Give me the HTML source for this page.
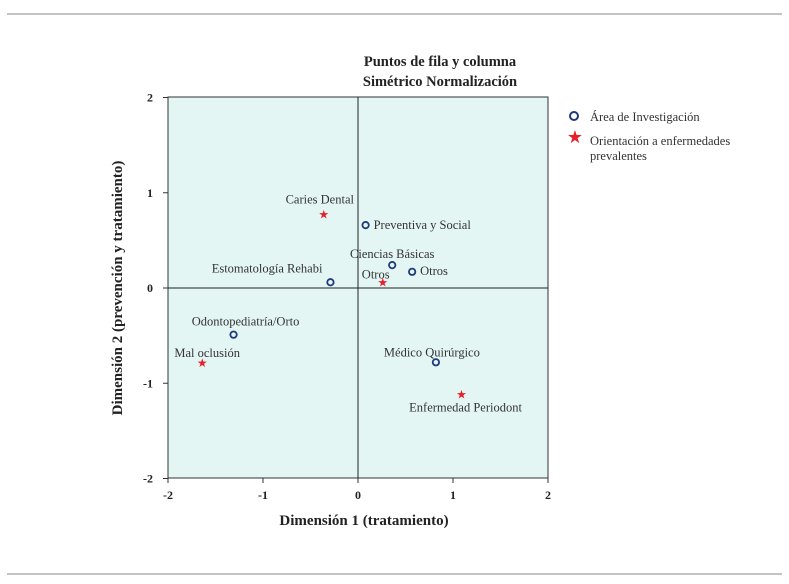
<!DOCTYPE html>
<html><head><meta charset="utf-8"><style>
body{margin:0;background:#fff;}
svg{display:block;font-family:"Liberation Serif",serif;}
</style></head><body>
<svg width="789" height="584" id="chart">
<line x1="7" y1="14" x2="782" y2="14" stroke="#888" stroke-width="1"/>
<line x1="7" y1="574" x2="782" y2="574" stroke="#888" stroke-width="1"/>
<text x="440" y="66" text-anchor="middle" font-size="14.5" font-weight="bold" fill="#222">Puntos de fila y columna</text>
<text x="440" y="86" text-anchor="middle" font-size="14.5" font-weight="bold" fill="#222">Simétrico Normalización</text>
<rect x="168" y="97" width="380" height="381" fill="#e3f6f4" stroke="#333" stroke-width="1"/>
<g id="axes"></g>
<g id="marks"></g>
<text x="364" y="525" text-anchor="middle" font-size="15" font-weight="bold" fill="#222">Dimensión 1 (tratamiento)</text>
<text transform="translate(122,288) rotate(-90)" text-anchor="middle" font-size="15" font-weight="bold" fill="#222">Dimensión 2 (prevención y tratamiento)</text>
<circle cx="574" cy="116" r="4" fill="none" stroke="#1f3a7a" stroke-width="2"/>
<text x="590" y="121" font-size="12.5" fill="#333">Área de Investigación</text>
<text x="575" y="143" text-anchor="middle" font-size="18" fill="#e8202a">★</text>
<text x="590" y="145" font-size="12.5" fill="#333">Orientación a enfermedades</text>
<text x="590" y="160" font-size="12.5" fill="#333">prevalentes</text>
</svg>
<script>
const ticks=[-2,-1,0,1,2];
const circleLabels=["Preventiva y Social","Ciencias Básicas","Otros","Estomatología Rehabi","Odontopediatría/Orto","Médico Quirúrgico"];
const circleX=[0.08,0.36,0.57,-0.29,-1.31,0.82];
const circleY=[0.66,0.24,0.17,0.06,-0.49,-0.78];
const starLabels=["Caries Dental","Otros","Mal oclusión","Enfermedad Periodont"];
const starX=[-0.36,0.26,-1.64,1.09];
const starY=[0.77,0.06,-0.79,-1.12];
const circleOff=[[8,4,"start"],[0,-7,"middle"],[8,3,"start"],[-8,-10,"end"],[12,-9,"middle"],[-4,-6,"middle"]];
const starOff=[[-4,-11,"middle"],[-7,-4,"middle"],[5,-6,"middle"],[4,17,"middle"]];
const NS="http://www.w3.org/2000/svg";
const sx=v=>358+v*95, sy=v=>288-v*95.25;
const axes=document.getElementById('axes'), marks=document.getElementById('marks');
function mk(tag,attrs,parent){const e=document.createElementNS(NS,tag);for(const k in attrs)e.setAttribute(k,attrs[k]);parent.appendChild(e);return e;}
let l=mk('line',{x1:sx(0),x2:sx(0),y1:97,y2:478,stroke:'#222'},axes);


l=mk('line',{x1:168,x2:548,y1:sy(0),y2:sy(0),stroke:'#222'},axes);


ticks.forEach(t=>{
 let a=mk('line',{x1:sx(t),x2:sx(t),y1:478,y2:483,stroke:'#333'},axes);
 
 
 let b=mk('text',{x:sx(t),y:499,'text-anchor':'middle','font-size':12,'font-weight':'bold',fill:'#222'},axes);b.textContent=t;
 
 
 let c=mk('line',{x1:163,x2:168,y1:sy(t),y2:sy(t),stroke:'#333'},axes);
 
 
 let d=mk('text',{x:153,y:sy(t)+4,'text-anchor':'end','font-size':12,'font-weight':'bold',fill:'#222'},axes);d.textContent=t;
 
 
});
circleLabels.forEach((n,i)=>{
 const x=sx(circleX[i]),y=sy(circleY[i]);
 let c=mk('circle',{cx:x,cy:y,r:3.2,fill:'none',stroke:'#1f3a7a','stroke-width':1.8},marks);
 
 
 const o=circleOff[i];
 let t=mk('text',{x:x+o[0],y:y+o[1],'text-anchor':o[2],'font-size':12.5,fill:'#333'},marks);t.textContent=n;
 
 
});
starLabels.forEach((n,i)=>{
 const x=sx(starX[i]),y=sy(starY[i]);
 let s=mk('text',{x:x,y:y+4,'text-anchor':'middle','font-size':12,fill:'#e8202a'},marks);s.textContent='★';
 
 
 const o=starOff[i];
 let t=mk('text',{x:x+o[0],y:y+o[1],'text-anchor':o[2],'font-size':12.5,fill:'#333'},marks);t.textContent=n;
 
 
});
</script>
</body></html>
